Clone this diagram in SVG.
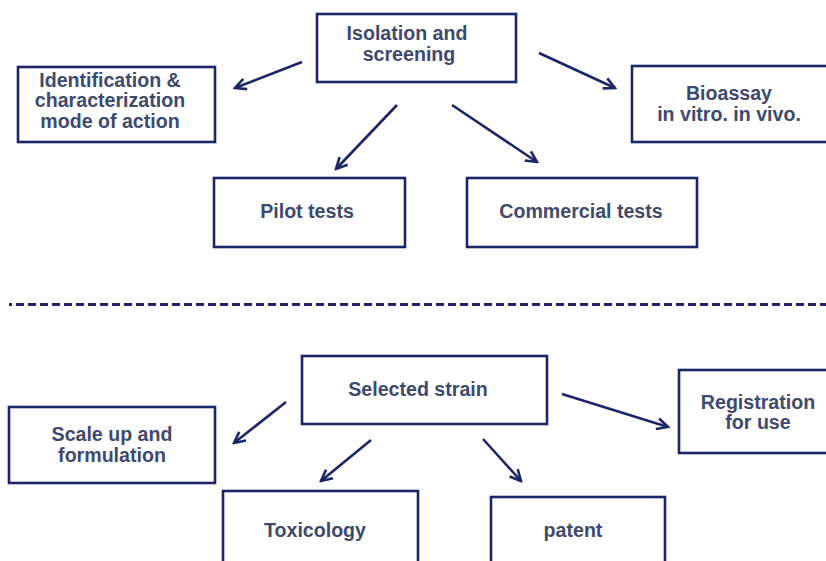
<svg xmlns="http://www.w3.org/2000/svg" width="826" height="561" viewBox="0 0 826 561">
<defs>
<marker id="ah" viewBox="0 0 14 14" refX="12" refY="7" markerWidth="14" markerHeight="14" markerUnits="userSpaceOnUse" orient="auto">
<path d="M1,1.5 L12,7 L1,12.5" fill="none" stroke="#1c2566" stroke-width="2.6"/>
</marker>
<style>
.box{fill:#ffffff;stroke:#1c2566;stroke-width:2.6}
.t{font-family:"Liberation Sans",Arial,sans-serif;font-weight:bold;font-size:19.6px;fill:#3d4a6e;text-anchor:middle}
.c{stroke:#1c2566;stroke-width:2.6;fill:none;marker-end:url(#ah)}
</style>
</defs>
<rect width="826" height="561" fill="#ffffff"/>
<g id="isolation"><rect class="box" x="317" y="14" width="199" height="68"/><text class="t" x="407" y="40">Isolation and</text><text class="t" x="409" y="61">screening</text></g>
<g id="identification"><rect class="box" x="18" y="67" width="197" height="75"/><text class="t" x="110" y="87">Identification &amp;</text><text class="t" x="110" y="107">characterization</text><text class="t" x="110" y="128">mode of action</text></g>
<g id="bioassay"><rect class="box" x="632" y="66" width="200" height="76"/><text class="t" x="729" y="100">Bioassay</text><text class="t" x="729" y="121">in vitro. in vivo.</text></g>
<g id="pilot"><rect class="box" x="214" y="178" width="191" height="69"/><text class="t" x="307" y="218">Pilot tests</text></g>
<g id="commercial"><rect class="box" x="467" y="178" width="230" height="69"/><text class="t" x="581" y="218">Commercial tests</text></g>
<g id="selected"><rect class="box" x="302" y="356" width="245" height="68"/><text class="t" x="418" y="396">Selected strain</text></g>
<g id="scaleup"><rect class="box" x="9" y="407" width="206" height="76"/><text class="t" x="112" y="441">Scale up and</text><text class="t" x="112" y="462">formulation</text></g>
<g id="registration"><rect class="box" x="679" y="370" width="160" height="83"/><text class="t" x="758" y="409">Registration</text><text class="t" x="758" y="429">for use</text></g>
<g id="toxicology"><rect class="box" x="223" y="491" width="195" height="90"/><text class="t" x="315" y="537">Toxicology</text></g>
<g id="patent"><rect class="box" x="491" y="497" width="174" height="90"/><text class="t" x="573" y="537">patent</text></g>
<g id="divider">
<line x1="9" y1="304.5" x2="12" y2="304.5" stroke="#1c2566" stroke-width="3"/>
<line x1="16" y1="304.5" x2="826" y2="304.5" stroke="#1c2566" stroke-width="3" stroke-dasharray="8 4"/>
</g>
<g id="connectors">
<line class="c" x1="302" y1="62" x2="235" y2="88"/>
<line class="c" x1="397" y1="105" x2="336" y2="169"/>
<line class="c" x1="539" y1="53" x2="615" y2="88"/>
<line class="c" x1="452" y1="105" x2="537" y2="162"/>
<line class="c" x1="286" y1="402" x2="234" y2="443"/>
<line class="c" x1="371" y1="440" x2="321" y2="481"/>
<line class="c" x1="483" y1="439" x2="521" y2="481"/>
<line class="c" x1="562" y1="394" x2="668" y2="427"/>
</g>
</svg>
